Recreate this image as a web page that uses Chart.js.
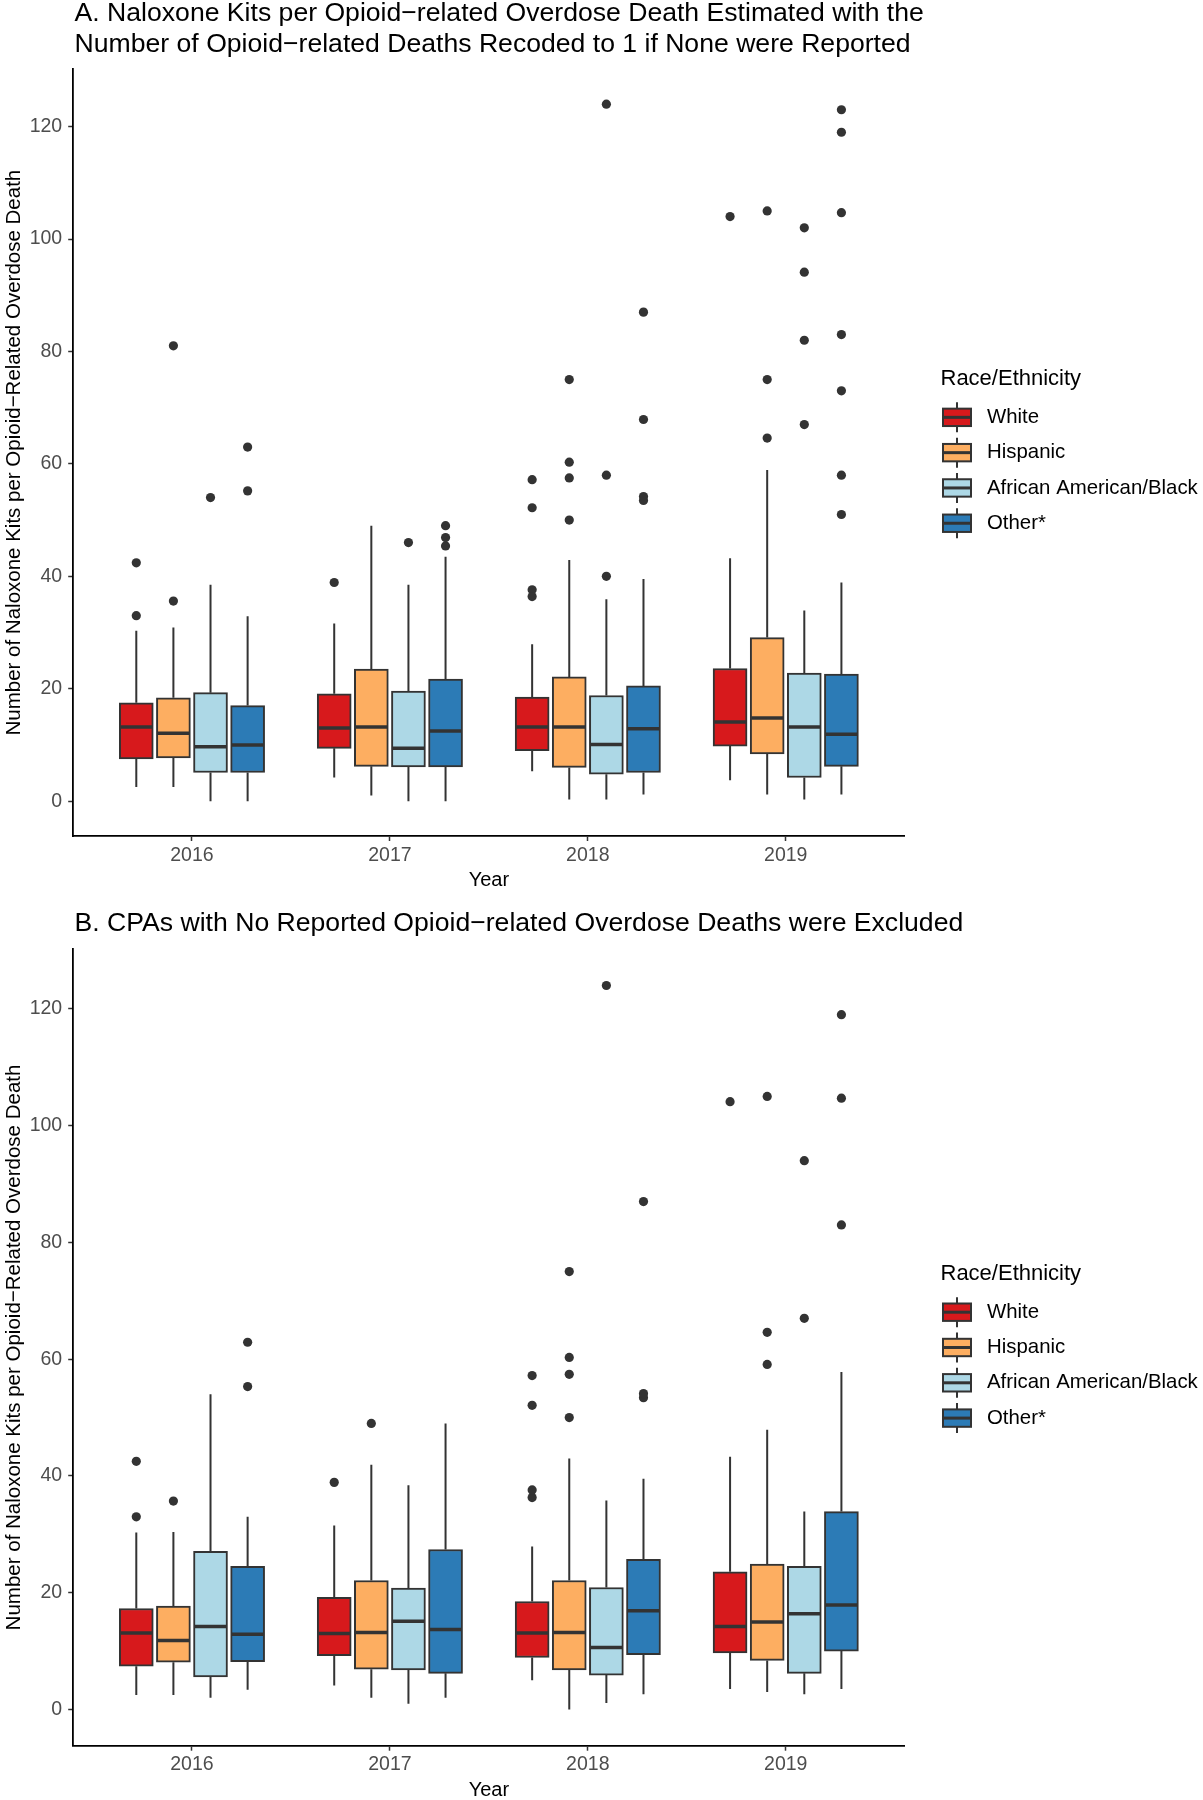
<!DOCTYPE html>
<html>
<head>
<meta charset="utf-8">
<script src="https://cdn.jsdelivr.net/npm/chart.js@4.4.1/dist/chart.umd.min.js"></script>
<style>
  html, body { margin: 0; padding: 0; background: #fff; }
  canvas { display: block; }
</style>
</head>
<body>
<canvas id="panelA" width="1203" height="900"></canvas>
<canvas id="panelB" width="1203" height="900"></canvas>
<script>
'use strict';

const YEARS = ['2016', '2017', '2018', '2019'];
const GROUPS = ['White', 'Hispanic', 'African American/Black', 'Other*'];
const COLORS = ['#D7191C', '#FDAE61', '#ADD8E6', '#2C7BB6'];

// five numbers per year: [whisker low, q1, median, q3, whisker high]
const A_WHITE    = [[2.5, 7.5, 13.2, 17.5, 30.3], [4.2, 9.4, 13.0, 19.1, 31.6], [5.3, 9.0, 13.2, 18.5, 27.9], [3.7, 9.8, 14.1, 23.6, 43.2]];
const A_HISPANIC = [[2.5, 7.7, 12.1, 18.4, 30.9], [1.0, 6.2, 13.2, 23.5, 49.0], [0.3, 6.0, 13.2, 22.1, 42.9], [1.2, 8.4, 14.8, 29.1, 58.9]];
const A_BLACK    = [[0, 5.1, 9.7, 19.3, 38.5], [0, 6.1, 9.4, 19.6, 38.5], [0.3, 4.8, 10.1, 18.8, 35.9], [0.3, 4.2, 13.2, 22.8, 33.9]];
const A_OTHER    = [[0, 5.1, 10.0, 17.0, 32.9], [0, 6.1, 12.5, 21.7, 43.5], [1.2, 5.1, 12.9, 20.5, 39.5], [1.2, 6.2, 11.9, 22.6, 38.9]];

const A_WHITE_OUT    = [[42.4, 33.0], [38.9], [57.2, 52.2, 37.6, 36.4], [104.0]];
const A_HISPANIC_OUT = [[35.6, 81.0], [], [75.0, 60.3, 57.5, 50.0], [64.6, 75.0, 105.0]];
const A_BLACK_OUT    = [[54.0], [46.0], [40.0, 58.0, 124.0], [67.0, 82.0, 94.1, 102.0]];
const A_OTHER_OUT    = [[55.2, 63.0], [45.4, 46.9, 49.0], [53.5, 54.2, 67.9, 87.0], [51.0, 58.0, 73.0, 83.0, 104.7, 119.0, 123.0]];

const B_WHITE    = [[2.5, 7.4, 13.1, 17.3, 30.3], [4.1, 9.2, 13.0, 19.2, 31.5], [5.0, 8.9, 13.1, 18.5, 27.9], [3.5, 9.7, 14.2, 23.6, 43.3]];
const B_HISPANIC = [[2.5, 8.1, 11.8, 17.7, 30.4], [2.0, 6.9, 13.2, 22.1, 41.9], [0, 6.8, 13.2, 22.1, 43.0], [3.0, 8.4, 15.0, 24.9, 47.9]];
const B_BLACK    = [[2.0, 5.6, 14.2, 27.1, 54.0], [1.0, 6.8, 15.1, 20.8, 38.4], [1.1, 5.9, 10.6, 20.9, 35.8], [2.6, 6.2, 16.4, 24.5, 33.9]];
const B_OTHER    = [[3.4, 8.2, 12.9, 24.5, 33.0], [2.0, 6.2, 13.7, 27.4, 49.0], [2.6, 9.4, 16.9, 25.7, 39.5], [3.5, 10.0, 17.9, 33.9, 57.8]];

const B_WHITE_OUT    = [[33.0, 42.5], [38.9], [36.3, 37.6, 52.1, 57.2], [104.1]];
const B_HISPANIC_OUT = [[35.7], [49.0], [50.0, 57.4, 60.3, 75.0], [59.1, 64.6, 105.0]];
const B_BLACK_OUT    = [[], [], [124.0], [67.0, 94.0]];
const B_OTHER_OUT    = [[55.3, 62.9], [], [53.4, 54.1, 87.0], [83.0, 104.7, 119.0]];

const TITLE_A = [
  'A. Naloxone Kits per Opioid\u2212related Overdose Death Estimated with the',
  'Number of Opioid\u2212related Deaths Recoded to 1 if None were Reported',
];
const TITLE_B = ['B. CPAs with No Reported Opioid\u2212related Overdose Deaths were Excluded'];
const Y_TITLE = 'Number of Naloxone Kits per Opioid\u2212Related Overdose Death';

// dodge position of each group inside a year
const DODGE = [-0.28125, -0.09375, 0.09375, 0.28125];
const EDGE = '#333333';
const FONT = '"Liberation Sans", Arial, Helvetica, sans-serif';

Chart.defaults.font.family = FONT;
Chart.defaults.color = '#000';

// whiskers behind the boxes, medians on top
const boxParts = {
  id: 'boxParts',
  beforeDatasetsDraw(chart) {
    const { ctx, scales: { y } } = chart;
    ctx.save();
    ctx.strokeStyle = EDGE;
    ctx.lineWidth = 2;
    chart.data.datasets.forEach((ds, d) => {
      if (!ds.five) return;
      chart.getDatasetMeta(d).data.forEach((bar, i) => {
        const s = ds.five[i];
        const x = bar.x;
        ctx.beginPath();
        ctx.moveTo(x, y.getPixelForValue(s[0]));
        ctx.lineTo(x, y.getPixelForValue(s[1]));
        ctx.moveTo(x, y.getPixelForValue(s[3]));
        ctx.lineTo(x, y.getPixelForValue(s[4]));
        ctx.stroke();
      });
    });
    ctx.restore();
  },
  afterDatasetsDraw(chart) {
    const { ctx, scales: { y } } = chart;
    ctx.save();
    ctx.strokeStyle = EDGE;
    ctx.lineWidth = 3.5;
    chart.data.datasets.forEach((ds, d) => {
      if (!ds.five) return;
      chart.getDatasetMeta(d).data.forEach((bar, i) => {
        const py = y.getPixelForValue(ds.five[i][2]);
        ctx.beginPath();
        ctx.moveTo(bar.x - bar.width / 2 + 1, py);
        ctx.lineTo(bar.x + bar.width / 2 - 1, py);
        ctx.stroke();
      });
    });
    ctx.restore();
  },
};

// left-aligned plot title (the built-in one squeezes text to the plot width)
const panelTitle = {
  id: 'panelTitle',
  afterDraw(chart, args, opts) {
    const { ctx, chartArea } = chart;
    ctx.save();
    ctx.font = opts.size + 'px ' + FONT;
    ctx.fillStyle = '#000';
    ctx.textAlign = 'left';
    ctx.textBaseline = 'middle';
    opts.lines.forEach((t, k) => ctx.fillText(t, chartArea.left + 1.4, opts.y[k]));
    ctx.restore();
  },
};

// ggplot-style legend with box glyphs
const boxLegend = {
  id: 'boxLegend',
  afterDraw(chart) {
    const { ctx, chartArea } = chart;
    const mid = (chartArea.top + chartArea.bottom) / 2 + 2;
    const r = chartArea.right;
    ctx.save();
    ctx.textBaseline = 'middle';
    ctx.textAlign = 'left';
    ctx.fillStyle = '#000';
    ctx.font = '22px ' + FONT;
    ctx.fillText('Race/Ethnicity', r + 36, mid - 76);
    ctx.font = '20.4px ' + FONT;
    GROUPS.forEach((name, j) => {
      const cy = mid - 37.3 + j * 35.3;
      const bx = r + 38.5;
      const bw = 28;
      ctx.strokeStyle = EDGE;
      ctx.lineWidth = 2;
      ctx.beginPath();
      ctx.moveTo(bx + bw / 2, cy - 15);
      ctx.lineTo(bx + bw / 2, cy + 15);
      ctx.stroke();
      ctx.fillStyle = COLORS[j];
      ctx.fillRect(bx, cy - 8.7, bw, 17.4);
      ctx.strokeRect(bx, cy - 8.7, bw, 17.4);
      ctx.lineWidth = 3;
      ctx.beginPath();
      ctx.moveTo(bx, cy);
      ctx.lineTo(bx + bw, cy);
      ctx.stroke();
      ctx.fillStyle = '#000';
      ctx.fillText(name, r + 82.5, cy);
    });
    ctx.restore();
  },
};

function makePanel(id, title, titleY, padTop, padBottom, stats, outliers) {
  const datasets = [];
  stats.forEach((rows, j) => {
    datasets.push({
      type: 'bar',
      label: GROUPS[j],
      five: rows,
      data: rows.map((s, i) => ({ x: i + 1 + DODGE[j], y: [s[1], s[3]] })),
      backgroundColor: COLORS[j],
      borderColor: EDGE,
      borderWidth: 2,
      borderSkipped: false,
      grouped: false,
      barThickness: 34,
    });
  });
  outliers.forEach((rows, j) => {
    datasets.push({
      type: 'scatter',
      label: GROUPS[j] + ' outliers',
      data: rows.flatMap((vals, i) => vals.map(v => ({ x: i + 1 + DODGE[j], y: v }))),
      pointRadius: 4.6,
      pointHoverRadius: 4.6,
      backgroundColor: EDGE,
      borderWidth: 0,
    });
  });

  new Chart(document.getElementById(id).getContext('2d'), {
    type: 'scatter',
    data: { datasets },
    plugins: [boxParts, panelTitle, boxLegend],
    options: {
      responsive: false,
      animation: false,
      layout: { padding: { top: padTop, right: 298.5, bottom: padBottom, left: 0 } },
      plugins: {
        legend: { display: false },
        tooltip: { enabled: false },
        title: { display: false },
        panelTitle: { lines: title, y: titleY, size: 26.6 },
      },
      scales: {
        x: {
          type: 'linear',
          min: 0.4,
          max: 4.6,
          offset: false,
          afterFit: s => { s.height = 54.3; },
          grid: { drawOnChartArea: false, offset: false, tickLength: 5, tickWidth: 1.5, tickColor: EDGE },
          border: { display: true, color: '#000', width: 1.8 },
          ticks: {
            stepSize: 1,
            includeBounds: false,
            autoSkip: false,
            maxRotation: 0,
            padding: 2.5,
            color: '#4D4D4D',
            font: { size: 19.5 },
            callback: v => (Number.isInteger(v) ? YEARS[v - 1] : ''),
          },
          title: { display: true, text: 'Year', color: '#000', font: { size: 20, lineHeight: 1.0 }, padding: { top: 0, bottom: 0 } },
        },
        y: {
          min: -6.2,
          max: 130.2,
          afterFit: s => { s.width = 73.2; },
          grid: { drawOnChartArea: false, tickLength: 5, tickWidth: 1.5, tickColor: EDGE },
          border: { display: true, color: '#000', width: 1.8 },
          ticks: { stepSize: 20, includeBounds: false, padding: 6, color: '#4D4D4D', font: { size: 19.5 } },
          title: { display: true, text: Y_TITLE, color: '#000', font: { size: 20.5 }, padding: { top: 2, bottom: 0 } },
        },
      },
    },
  });
}

makePanel('panelA', TITLE_A, [14, 44.5], 69.3, 9.7,
  [A_WHITE, A_HISPANIC, A_BLACK, A_OTHER],
  [A_WHITE_OUT, A_HISPANIC_OUT, A_BLACK_OUT, A_OTHER_OUT]);

makePanel('panelB', TITLE_B, [24], 49.3, 0,
  [B_WHITE, B_HISPANIC, B_BLACK, B_OTHER],
  [B_WHITE_OUT, B_HISPANIC_OUT, B_BLACK_OUT, B_OTHER_OUT]);
</script>
</body>
</html>
